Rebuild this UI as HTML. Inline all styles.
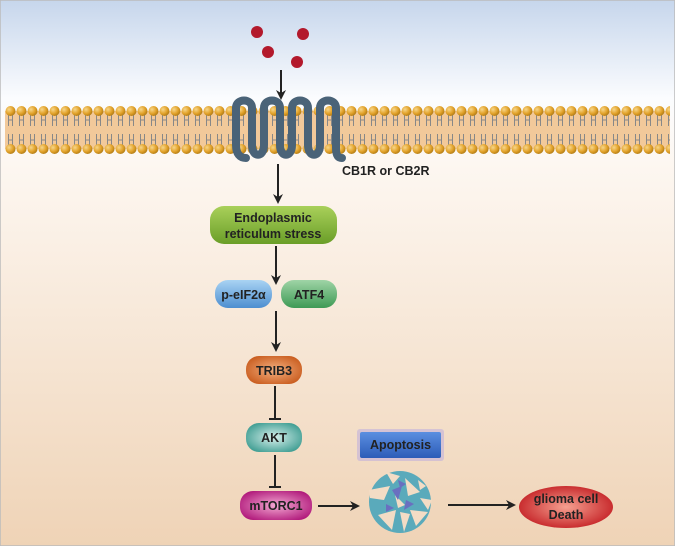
<!DOCTYPE html>
<html><head><meta charset="utf-8"><style>
html,body{margin:0;padding:0;}
body{width:675px;height:546px;overflow:hidden;}
text{font-family:"Liberation Sans",sans-serif;font-weight:bold;}
</style></head><body>
<svg width="675" height="546" viewBox="0 0 675 546" xmlns="http://www.w3.org/2000/svg">
<defs>
<linearGradient id="bg" x1="0" y1="0" x2="0" y2="1">
<stop offset="0" stop-color="#c6d6ec"/>
<stop offset="0.18" stop-color="#fbfcfe"/>
<stop offset="0.3" stop-color="#fdf7f1"/>
<stop offset="1" stop-color="#efd3b6"/>
</linearGradient>
<radialGradient id="head" cx="0.35" cy="0.35" r="0.7">
<stop offset="0" stop-color="#f7d68a"/><stop offset="0.6" stop-color="#e2a22a"/><stop offset="1" stop-color="#b07a14"/>
</radialGradient>
<pattern id="headsT" x="5" y="105" width="11" height="12" patternUnits="userSpaceOnUse">
<circle cx="5.5" cy="6" r="5" fill="url(#head)"/>
</pattern>
<pattern id="headsB" x="5" y="143" width="11" height="12" patternUnits="userSpaceOnUse">
<circle cx="5.5" cy="6" r="5" fill="url(#head)"/>
</pattern>
<pattern id="tails" x="5" y="115" width="11" height="30" patternUnits="userSpaceOnUse">
<path d="M3.5 0 V11 M7.5 0 V11 M3.5 5 H7.5 M3.5 19 V30 M7.5 19 V30 M3.5 25 H7.5" stroke="#888" stroke-width="1" fill="none"/>
</pattern>
<linearGradient id="g1" x1="0" y1="0" x2="0" y2="1"><stop offset="0" stop-color="#a9d05a"/><stop offset="1" stop-color="#6a9e28"/></linearGradient>
<linearGradient id="gBlue" x1="0" y1="0" x2="0" y2="1"><stop offset="0" stop-color="#a9d3f3"/><stop offset="1" stop-color="#4d8ed0"/></linearGradient>
<linearGradient id="gGreen" x1="0" y1="0" x2="0" y2="1"><stop offset="0" stop-color="#9fd4a6"/><stop offset="1" stop-color="#3e9a55"/></linearGradient>
<radialGradient id="gOr" cx="0.5" cy="0.5" r="0.6"><stop offset="0" stop-color="#f4b080"/><stop offset="1" stop-color="#c85a1c"/></radialGradient>
<radialGradient id="gTeal" cx="0.5" cy="0.5" r="0.6"><stop offset="0" stop-color="#d8f0ec"/><stop offset="1" stop-color="#3b9b90"/></radialGradient>
<radialGradient id="gMag" cx="0.5" cy="0.5" r="0.6"><stop offset="0" stop-color="#f3a8d2"/><stop offset="1" stop-color="#b0187a"/></radialGradient>
<radialGradient id="gRed" cx="0.5" cy="0.5" r="0.6"><stop offset="0" stop-color="#f6a090"/><stop offset="1" stop-color="#c0161c"/></radialGradient>
<linearGradient id="gAp" x1="0" y1="0" x2="0" y2="1"><stop offset="0" stop-color="#5b8fe0"/><stop offset="1" stop-color="#2c5cb8"/></linearGradient>
<marker id="ar" markerWidth="10" markerHeight="10" refX="8" refY="5" orient="auto" markerUnits="userSpaceOnUse"><path d="M0 0 L10 5 L0 10 L3 5 Z" fill="#222"/></marker>
</defs>
<rect x="0" y="0" width="675" height="546" fill="url(#bg)" stroke="#bbb" stroke-width="1.5"/>
<!-- membrane -->
<rect x="5" y="111" width="665" height="38" fill="#f2c99a"/>
<rect x="5" y="115" width="665" height="30" fill="url(#tails)"/>
<rect x="5" y="105" width="665" height="12" fill="url(#headsT)"/>
<rect x="5" y="143" width="665" height="12" fill="url(#headsB)"/>
<!-- receptor -->
<path d="M236 108 C236 98 252 98 252 108 V145 C252 158 264 158 264 145 V108 C264 98 280 98 280 108 V145 C280 158 292 158 292 145 V108 C292 98 308 98 308 108 V145 C308 158 320 158 320 145 V108 C320 98 336 98 336 108 V148 C336 156 338 158 342 158" fill="none" stroke="#4a6378" stroke-width="8" stroke-linecap="round"/>
<path d="M236 108 V145 C236 154 240 158 246 158" fill="none" stroke="#4a6378" stroke-width="8" stroke-linecap="round"/>
<!-- ligands -->
<circle cx="257" cy="32" r="6" fill="#b3192c"/><circle cx="303" cy="34" r="6" fill="#b3192c"/>
<circle cx="268" cy="52" r="6" fill="#b3192c"/><circle cx="297" cy="62" r="6" fill="#b3192c"/>
<line x1="281" y1="70" x2="281" y2="98" stroke="#222" stroke-width="2" marker-end="url(#ar)"/>
<text x="342" y="175" font-size="12.5" fill="#222">CB1R or CB2R</text>
<line x1="278" y1="164" x2="278" y2="202" stroke="#222" stroke-width="2" marker-end="url(#ar)"/>
<rect x="210" y="206" width="127" height="38" rx="14" fill="url(#g1)"/>
<text x="273" y="222" font-size="12.5" text-anchor="middle" fill="#222">Endoplasmic</text>
<text x="273" y="238" font-size="12.5" text-anchor="middle" fill="#222">reticulum stress</text>
<line x1="276" y1="246" x2="276" y2="283" stroke="#222" stroke-width="2" marker-end="url(#ar)"/>
<rect x="215" y="280" width="57" height="28" rx="13" fill="url(#gBlue)"/>
<text x="243.5" y="299" font-size="12.5" text-anchor="middle" fill="#222">p-eIF2α</text>
<rect x="281" y="280" width="56" height="28" rx="13" fill="url(#gGreen)"/>
<text x="309" y="299" font-size="12.5" text-anchor="middle" fill="#222">ATF4</text>
<line x1="276" y1="311" x2="276" y2="350" stroke="#222" stroke-width="2" marker-end="url(#ar)"/>
<rect x="246" y="356" width="56" height="28" rx="13" fill="url(#gOr)"/>
<text x="274" y="375" font-size="12.5" text-anchor="middle" fill="#222">TRIB3</text>
<path d="M275 386 V419 M269 419 H281" stroke="#222" stroke-width="2"/>
<rect x="246" y="423" width="56" height="29" rx="13" fill="url(#gTeal)"/>
<text x="274" y="442" font-size="12.5" text-anchor="middle" fill="#222">AKT</text>
<path d="M275 455 V487 M269 487 H281" stroke="#222" stroke-width="2"/>
<rect x="240" y="491" width="72" height="29" rx="13" fill="url(#gMag)"/>
<text x="276" y="510" font-size="12.5" text-anchor="middle" fill="#222">mTORC1</text>
<line x1="318" y1="506" x2="358" y2="506" stroke="#222" stroke-width="2" marker-end="url(#ar)"/>
<rect x="357" y="429" width="87" height="32" rx="3" fill="#b8a8e0" opacity="0.5"/>
<rect x="360" y="432" width="81" height="26" rx="2" fill="url(#gAp)"/>
<text x="400.5" y="449" font-size="12.5" text-anchor="middle" fill="#222">Apoptosis</text>
<!-- fragmented cell -->
<circle cx="400" cy="502" r="31" fill="#5aaabb"/>
<path d="M369 490 L390 486 L384 500 L370 498 Z M405 478 L420 492 L408 496 Z M378 515 L396 510 L392 530 Z M410 510 L428 512 L416 526 Z M395 495 L405 505 L398 508 Z M420 498 L432 500 L428 510 Z M386 472 L400 476 L393 484 Z M400 512 L410 514 L404 532 Z M418 480 L426 486 L420 490 Z" fill="#f3dcc5"/>
<path d="M392 490 L402 486 L398 500 Z M406 500 L414 504 L404 510 Z M386 504 L394 508 L386 512 Z M398 480 L406 484 L400 488 Z" fill="#6a6fc0"/>
<line x1="448" y1="505" x2="514" y2="505" stroke="#222" stroke-width="2" marker-end="url(#ar)"/>
<ellipse cx="566" cy="507" rx="47" ry="21" fill="url(#gRed)"/>
<text x="566" y="503" font-size="12.5" text-anchor="middle" fill="#222">glioma cell</text>
<text x="566" y="519" font-size="12.5" text-anchor="middle" fill="#222">Death</text>
</svg>
</body></html>
